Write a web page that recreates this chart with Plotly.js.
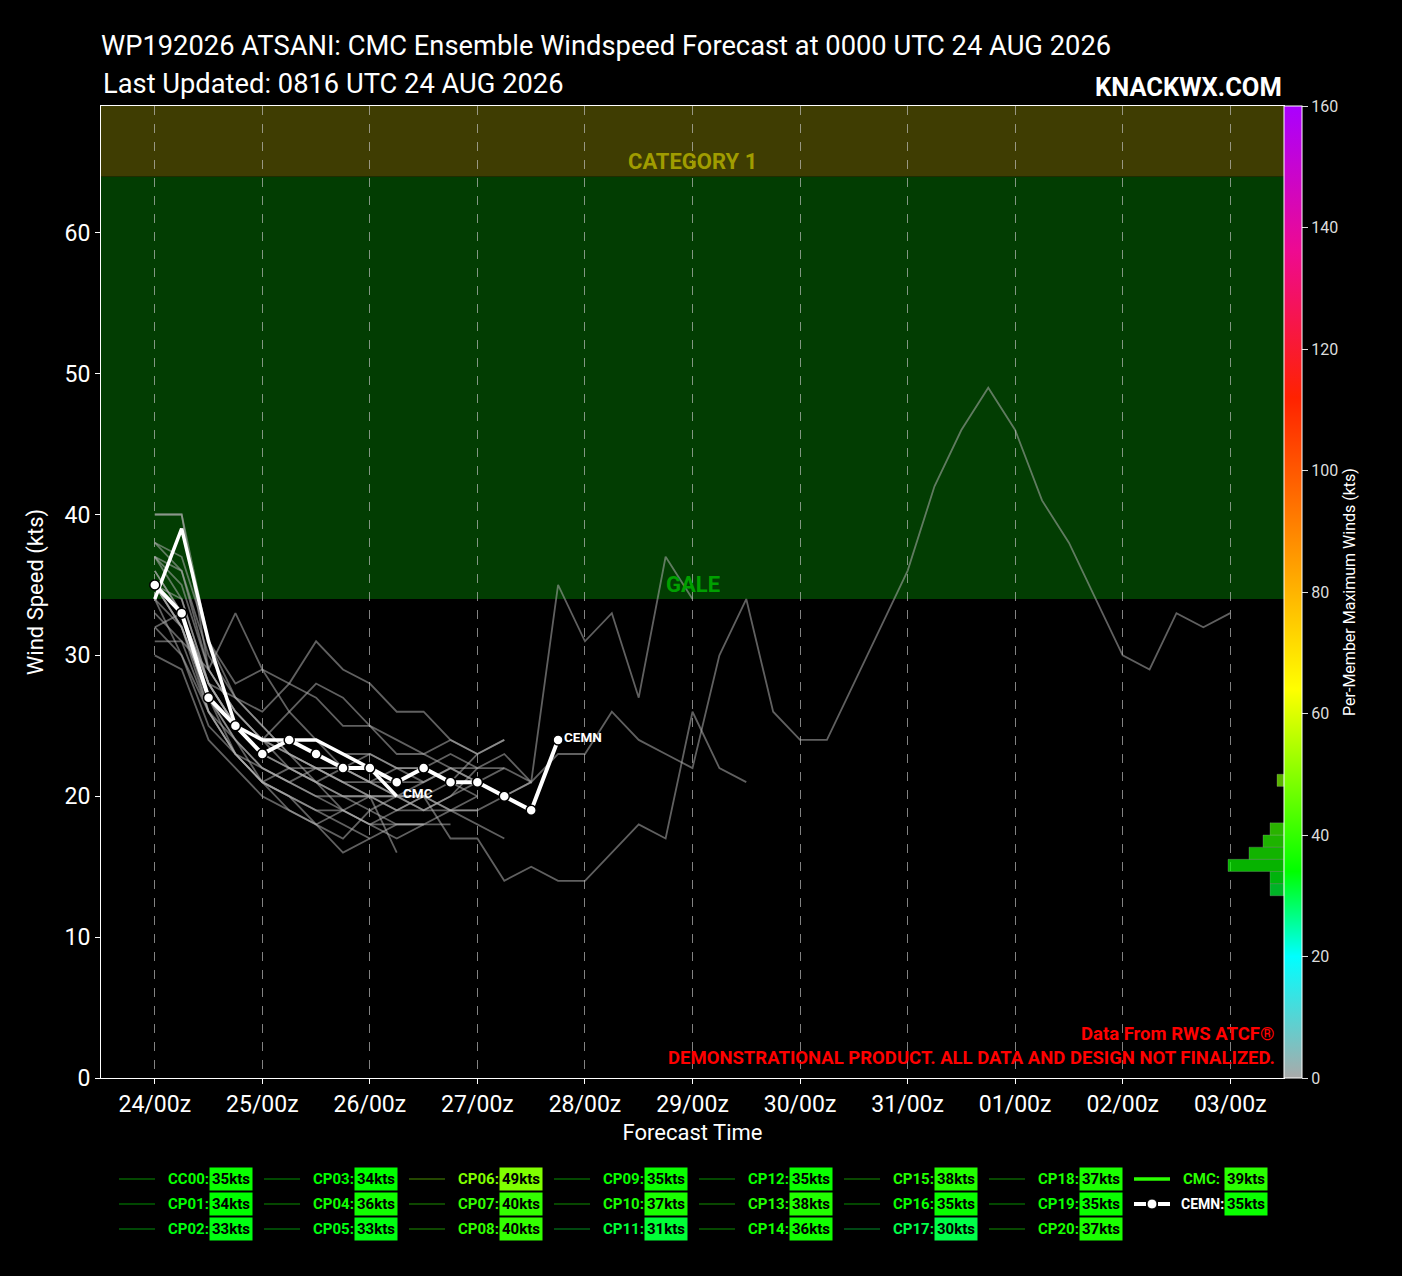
<!DOCTYPE html>
<html><head><meta charset="utf-8">
<script src="https://cdn.plot.ly/plotly-3.0.1.min.js"></script>
<style>html,body{margin:0;padding:0;background:#000;}#chart{width:1402px;height:1276px;}</style>
</head><body><div id="chart"></div>
<script>
const FONT = 'Roboto, "Liberation Sans", sans-serif';

const forecastHours = [0,6,12,18,24,30,36,42,48,54,60,66,72,78,84,90,96,102,108,114,120,126,132,138,144,150,156,162,168,174,180,186,192,198,204,210,216,222,228,234,240];
const tickHours = [0,24,48,72,96,120,144,168,192,216,240];
const tickLabels = ['24/00z','25/00z','26/00z','27/00z','28/00z','29/00z','30/00z','31/00z','01/00z','02/00z','03/00z'];
const yTicks = [0,10,20,30,40,50,60];
const cbTicks = [0,20,40,60,80,100,120,140,160];

const memberNames = ['CC00','CP01','CP02','CP03','CP04','CP05','CP06','CP07','CP08','CP09','CP10','CP11','CP12','CP13','CP14','CP15','CP16','CP17','CP18','CP19','CP20'];
const memberMax = [35,34,33,34,36,33,49,40,40,35,37,31,35,38,36,38,35,30,37,35,37];

const cc00 = [35,34,28,25,24,23,22,21,20,20,19,19,20];
const cp01 = [34,32,27,24,21,22,21,20,19,18,18];
const cp02 = [32,33,28,27,26,28,31,29,28,26,26,24,23];
const cp03 = [34,30,25,23,22,21,20,20,20,16];
const cp04 = [36,33,26,23,21,19,18,16,17];
const cp05 = [33,31,29,33,29,26,24,22,21,20,20,19,19,20,21];
const cp06 = [32,30,26,24,22,21,22,22,21,21,21,22,22,23,21,23,23,26,24,23,22,30,34,26,24,24,28,32,36,42,46,49,46,41,38,34,30,29,33,32,33];
const cp07 = [40,40,31,27,25,23,22,21,20,20,21];
const cp08 = [40,40,29,26,24,22,21,22,23,22,21,22,21,20,21];
const cp09 = [35,32,27,24,22,21,20,19,18,18,18,18];
const cp10 = [37,35,29,26,24,23,22,21,21,22,22,23,22,22,21,35,31,33,27,37,34];
const cp11 = [31,31,26,23,21,20,18,19,20,19,20,19,18,17];
const cp12 = [35,33,28,25,24,24,24,23,23,22,22,21,23,24];
const cp13 = [38,36,30,27,25,23,21,19,18,19,20,21,20];
const cp14 = [36,33,28,25,23,22,21,20,20,19,19,20,22];
const cp15 = [38,37,31,28,29,28,27,25,25,23,23,24,23,24];
const cp16 = [35,32,26,23,21,20,19,18,17,18,18];
const cp17 = [30,29,24,22,20,19,18,17,19,20,20,17,17,14,15,14,14,16,18,17,26,22,21];
const cp18 = [37,36,29,26,24,26,28,27,25,24,23,22,21];
const cp19 = [35,32,27,23,21,20,19,19,18,17,18,19,19];
const cp20 = [37,34,28,25,23,22,22,22,21,20,19,20,21,22];

const cmcWind = [34,39,31,25,24,24,24,23,22,20];
const cmcMax = 39;
const cemnWind = [35,33,27,25,23,24,23,22,22,21,22,21,21,20,19,24];
const cemnMax = 35;

const memberTracks = [cc00,cp01,cp02,cp03,cp04,cp05,cp06,cp07,cp08,cp09,cp10,cp11,cp12,cp13,cp14,cp15,cp16,cp17,cp18,cp19,cp20];

const windScale = [[0,'#aaaaaa'],[0.125,'#00ffff'],[0.2125,'#00ff00'],[0.4,'#ffff00'],[0.52,'#ffa500'],[0.6,'#ff6a00'],[0.7,'#ff2200'],[0.85,'#ee0a90'],[1,'#aa00ff']];

function hexToRgb(h){return [parseInt(h.slice(1,3),16),parseInt(h.slice(3,5),16),parseInt(h.slice(5,7),16)];}
function colorAt(v, a){
  const t = Math.max(0, Math.min(1, v/160));
  let i = 0;
  while (i < windScale.length-2 && t > windScale[i+1][0]) i++;
  const [t0,c0] = windScale[i], [t1,c1] = windScale[i+1];
  const f = (t - t0)/(t1 - t0);
  const a0 = hexToRgb(c0), a1 = hexToRgb(c1);
  const rgb = a0.map((x,k)=>Math.round(x + (a1[k]-x)*f));
  return a === undefined ? `rgb(${rgb.join(',')})` : `rgba(${rgb.join(',')},${a})`;
}

// plot-area pixel geometry
const PL = 101, PR = 1284, PT = 106, PB = 1078;
const px2x = p => (p - PL)/(PR - PL);
const py2y = p => (PB - p)/(PB - PT);

const traces = [];
memberTracks.forEach((trk, i) => {
  traces.push({
    type:'scatter', mode:'lines', name: memberNames[i],
    x: forecastHours.slice(0, trk.length), y: trk,
    line:{color:'rgba(175,175,175,0.55)', width:1.8},
    hoverinfo:'skip'
  });
});
traces.push({
  type:'scatter', mode:'lines', name:'CMC',
  x: forecastHours.slice(0, cmcWind.length), y: cmcWind,
  line:{color:'#ffffff', width:3.5}
});
traces.push({
  type:'scatter', mode:'lines+markers', name:'CEMN',
  x: forecastHours.slice(0, cemnWind.length), y: cemnWind,
  line:{color:'#ffffff', width:4},
  marker:{size:10, color:'#ffffff', line:{color:'#000000', width:1.5}}
});

// histogram of per-member maximum winds (2-kt bins)
const allMax = memberMax.concat([cmcMax, cemnMax]);
const binCounts = {};
allMax.forEach(v => { const c = Math.floor(v/2)*2 + 1; binCounts[c] = (binCounts[c]||0) + 1; });
const binCenters = Object.keys(binCounts).map(Number).sort((a,b)=>a-b);
const binValues = binCenters.map(c => binCounts[c]);
traces.push({
  type:'bar', orientation:'h', xaxis:'x2', yaxis:'y2',
  x: binValues, y: binCenters, width: 2, opacity: 0.7,
  marker:{
    color: binCenters, colorscale: windScale, cmin:0, cmax:160, showscale:true,
    line:{color:'rgba(255,255,255,0.25)', width:1},
    colorbar:{
      x:1, xref:'paper', xanchor:'left', xpad:0, y:0.5, yanchor:'middle', yref:'paper',
      len:1, lenmode:'fraction', ypad:0, thickness:18, thicknessmode:'pixels',
      outlinewidth:1, outlinecolor:'#ffffff', bgcolor:'rgba(0,0,0,0)',
      tickvals: cbTicks, ticks:'outside', ticklen:6, tickcolor:'#dddddd',
      tickfont:{family:FONT, size:16, color:'#dddddd'},
      title:{text:'Per-Member Maximum Winds (kts)', side:'right', font:{family:FONT, size:16, color:'#ffffff'}}
    }
  },
  hoverinfo:'skip'
});

const shapes = [
  {type:'rect', xref:'paper', yref:'y', x0:0, x1:1, y0:34, y1:64, fillcolor:'#023d02', line:{width:0}, layer:'below'},
  {type:'rect', xref:'paper', yref:'y', x0:0, x1:1, y0:64, y1:83, fillcolor:'#3f3d02', line:{width:0}, layer:'below'}
];

const annotations = [
  {xref:'paper', yref:'paper', x:0, y:py2y(84), xanchor:'left', yanchor:'middle', showarrow:false,
   text:'Last Updated: 0816 UTC 24 AUG 2026', font:{family:FONT, size:27.3, color:'#ffffff'}},
  {xref:'paper', yref:'paper', x:1, y:py2y(87), xanchor:'right', yanchor:'middle', showarrow:false,
   text:'<b>KNACKWX.COM</b>', font:{family:FONT, size:25.5, color:'#ffffff'}},
  {xref:'paper', yref:'y', x:0.5, y:64, xanchor:'center', yanchor:'bottom', showarrow:false,
   text:'<b>CATEGORY 1</b>', font:{family:FONT, size:22, color:'#a09c00'}},
  {xref:'paper', yref:'y', x:0.5, y:34, xanchor:'center', yanchor:'bottom', showarrow:false,
   text:'<b>GALE</b>', font:{family:FONT, size:22, color:'#00a000'}},
  {xref:'paper', yref:'paper', x:px2x(1277), y:py2y(1034), xanchor:'right', yanchor:'middle', showarrow:false,
   text:'<b>Data From RWS ATCF®</b>', font:{family:FONT, size:18.5, color:'#ff0000'}},
  {xref:'paper', yref:'paper', x:px2x(1277), y:py2y(1058), xanchor:'right', yanchor:'middle', showarrow:false,
   text:'<b>DEMONSTRATIONAL PRODUCT. ALL DATA AND DESIGN NOT FINALIZED.</b>', font:{family:FONT, size:18.5, color:'#ff0000'}},
  {xref:'x', yref:'y', x: forecastHours[cmcWind.length-1], y: cmcWind[cmcWind.length-1], xanchor:'left', yanchor:'middle',
   xshift:4, yshift:3, showarrow:false, text:'<b>CMC</b>', font:{family:FONT, size:13.5, color:'#ffffff'}},
  {xref:'x', yref:'y', x: forecastHours[cemnWind.length-1], y: cemnWind[cemnWind.length-1], xanchor:'left', yanchor:'middle',
   xshift:4, yshift:3, showarrow:false, text:'<b>CEMN</b>', font:{family:FONT, size:13.5, color:'#ffffff'}}
];

// custom legend below the plot
const legendItems = memberNames.map((n,i)=>({name:n, max:memberMax[i], kind:'member'}))
  .concat([{name:'CMC', max:cmcMax, kind:'cmc'}, {name:'CEMN', max:cemnMax, kind:'cemn'}]);
const rowsPx = [1179, 1204, 1229];
legendItems.forEach((it, idx) => {
  const col = Math.floor(idx/3), row = idx % 3;
  const cx = 119 + 145*col, cy = rowsPx[row];
  if (it.kind === 'member') {
    shapes.push({type:'line', xref:'paper', yref:'paper', x0:px2x(cx), x1:px2x(cx+36), y0:py2y(cy), y1:py2y(cy),
      line:{color:colorAt(it.max, 0.28), width:2}});
  } else if (it.kind === 'cmc') {
    shapes.push({type:'line', xref:'paper', yref:'paper', x0:px2x(cx), x1:px2x(cx+36), y0:py2y(cy), y1:py2y(cy),
      line:{color:colorAt(it.max), width:3.5}});
  } else {
    shapes.push({type:'line', xref:'paper', yref:'paper', x0:px2x(cx), x1:px2x(cx+12), y0:py2y(cy), y1:py2y(cy),
      line:{color:'#ffffff', width:4}});
    shapes.push({type:'line', xref:'paper', yref:'paper', x0:px2x(cx+24), x1:px2x(cx+36), y0:py2y(cy), y1:py2y(cy),
      line:{color:'#ffffff', width:4}});
    shapes.push({type:'circle', xref:'paper', yref:'paper', xsizemode:'pixel', ysizemode:'pixel',
      xanchor:px2x(cx+18), yanchor:py2y(cy), x0:-5, x1:5, y0:-5, y1:5,
      fillcolor:'#ffffff', line:{color:'#000000', width:1}});
  }
  const labelSize = it.kind === 'cemn' ? 14 : 15;
  annotations.push({xref:'paper', yref:'paper', x:px2x(cx + (it.kind === 'cemn' ? 45 : 47)), y:py2y(cy), xanchor:'left', yanchor:'middle', showarrow:false,
    text:'<b>'+it.name+':</b>', font:{family:FONT, size:labelSize, color: it.kind==='cemn' ? '#ffffff' : colorAt(it.max)}});
  annotations.push({xref:'paper', yref:'paper', x:px2x(cx+90), y:py2y(cy), xanchor:'left', yanchor:'middle', showarrow:false,
    text:'<b>'+it.max+'kts</b>', bgcolor:colorAt(it.max), borderpad:2,
    font:{family:FONT, size:15, color:'#000000'}});
});

const layout = {
  width:1402, height:1276,
  paper_bgcolor:'#000000', plot_bgcolor:'#000000',
  margin:{l:PL, r:1402-PR, t:PT, b:1276-PB, pad:0},
  showlegend:false,
  title:{
    text:'WP192026 ATSANI: CMC Ensemble Windspeed Forecast at 0000 UTC 24 AUG 2026',
    font:{family:FONT, size:27.3, color:'#ffffff'},
    xref:'paper', x:0, xanchor:'left', yref:'container', y:1-45/1276, yanchor:'middle'
  },
  xaxis:{
    range:[-12,252], tickmode:'array', tickvals:tickHours, ticktext:tickLabels,
    showgrid:true, gridcolor:'rgba(200,200,200,0.65)', griddash:'dash', gridwidth:1,
    zeroline:false, showline:true, mirror:true, linecolor:'#ffffff', linewidth:1,
    ticks:'outside', ticklen:5, tickcolor:'#ffffff',
    tickfont:{family:FONT, size:23, color:'#ffffff'},
    title:{text:'Forecast Time', font:{family:FONT, size:22, color:'#ffffff'}, standoff:8}
  },
  yaxis:{
    range:[0,69], tickmode:'array', tickvals:yTicks,
    showgrid:false, zeroline:false, showline:true, mirror:true, linecolor:'#ffffff', linewidth:1,
    ticks:'outside', ticklen:5, tickcolor:'#ffffff',
    tickfont:{family:FONT, size:23, color:'#ffffff'},
    title:{text:'Wind Speed (kts)', font:{family:FONT, size:22, color:'#ffffff'}, standoff:14}
  },
  xaxis2:{overlaying:'x', anchor:'y2', range:[(PR-PL)/7, 0], visible:false, fixedrange:true},
  yaxis2:{overlaying:'y', anchor:'x2', range:[0,160], visible:false, fixedrange:true},
  shapes: shapes,
  annotations: annotations,
  bargap:0
};

Plotly.newPlot('chart', traces, layout, {displayModeBar:false, staticPlot:true});
</script>
</body></html>
